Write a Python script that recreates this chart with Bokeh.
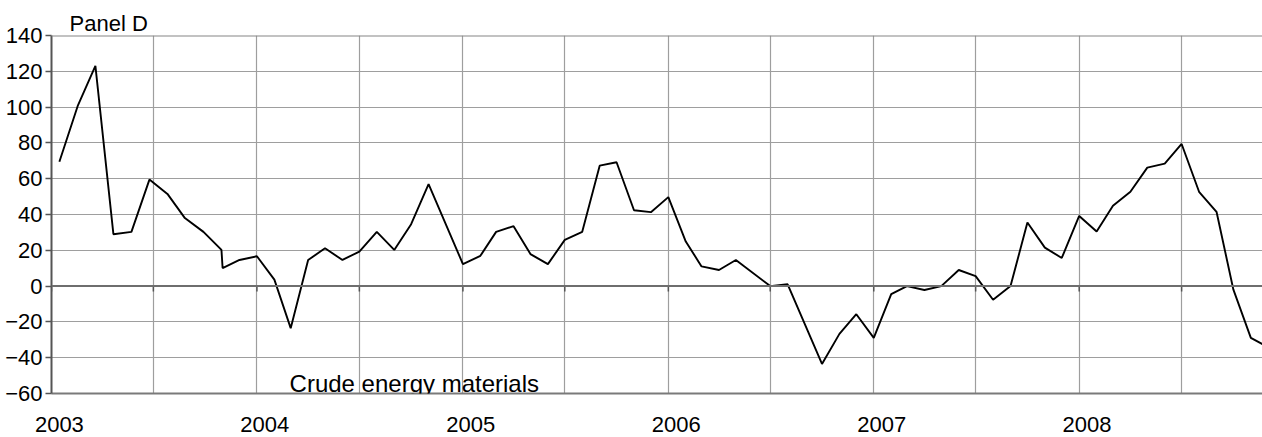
import numpy as np
from bokeh.plotting import figure
from bokeh.models import Range1d, FixedTicker, Span, Label
from bokeh.embed import file_html
from bokeh.resources import INLINE

# ---- data ----
dates = [
    "2003-01-15", "2003-02-17", "2003-03-20", "2003-04-21", "2003-05-23", "2003-06-24",
    "2003-07-26", "2003-08-26", "2003-09-28", "2003-10-30", "2003-11-01", "2003-12-01",
    "2004-01-01", "2004-02-01", "2004-03-01", "2004-04-01", "2004-05-01", "2004-06-01",
    "2004-07-01", "2004-08-01", "2004-09-01", "2004-10-01", "2004-11-01",
    "2005-01-01", "2005-02-01", "2005-03-01", "2005-04-01", "2005-05-01", "2005-06-01",
    "2005-07-01", "2005-08-01", "2005-09-01", "2005-10-01", "2005-11-01", "2005-12-01",
    "2006-01-01", "2006-02-01", "2006-03-01", "2006-04-01", "2006-05-01",
    "2006-07-01", "2006-08-01", "2006-10-01", "2006-11-01", "2006-12-01",
    "2007-01-01", "2007-02-01", "2007-03-01", "2007-04-01", "2007-05-01", "2007-06-01",
    "2007-07-01", "2007-08-01", "2007-09-01", "2007-10-01", "2007-11-01", "2007-12-01",
    "2008-01-01", "2008-02-01", "2008-03-01", "2008-04-01", "2008-05-01", "2008-06-01",
    "2008-07-01", "2008-08-01", "2008-09-01", "2008-10-01", "2008-11-01", "2008-12-01",
]
values = [
    69.5, 101.0, 123.0, 29.0, 30.3, 59.5,
    51.5, 38.0, 30.3, 20.2, 10.1, 14.6,
    16.7, 3.6, -23.5, 14.6, 21.1, 14.6,
    19.3, 30.3, 20.2, 34.6, 57.0,
    12.3, 16.9, 30.3, 33.5, 17.9, 12.3,
    25.8, 30.3, 67.3, 69.2, 42.4, 41.3,
    49.7, 24.9, 11.0, 9.0, 14.6,
    0.0, 1.0, -43.5, -26.7, -15.7,
    -28.9, -4.5, 0.0, -2.2, 0.0, 9.0,
    5.6, -7.6, 0.0, 35.5, 21.5, 15.7,
    39.2, 30.5, 44.9, 52.7, 66.2, 68.4,
    79.4, 52.7, 41.5, -2.0, -28.9, -34.0,
]
years = [2003, 2004, 2005, 2006, 2007, 2008]
year_labels = ["2003", "2004", "2005", "2006", "2007", "2008"]
y_ticks = [-60, -40, -20, 0, 20, 40, 60, 80, 100, 120, 140]
panel_title = "Panel D"
series_name = "Crude energy materials"

origin = np.datetime64("2003-01-01")
xs = (np.array(dates, dtype="datetime64[D]") - origin).astype(int).tolist()
year_starts = [int((np.datetime64(f"{y}-01-01") - origin).astype(int)) for y in years]
half_years = [int((np.datetime64(f"{y}-07-01") - origin).astype(int)) for y in years]
grid_days = sorted(year_starts + half_years)
label_days = [d + 14 for d in year_starts]

FONT = "Liberation Sans"

p = figure(
    width=1262, height=437, output_backend="svg", toolbar_location=None,
    x_range=Range1d(0, 2151.7), y_range=Range1d(-60, 140),
    min_border_left=51, min_border_right=0, min_border_top=35, min_border_bottom=44,
    background_fill_color="white", border_fill_color="white",
)
p.outline_line_color = None

# title "Panel D"
p.title.text = panel_title
p.title.align = "left"
p.title.offset = 18
p.title.standoff = 0
p.title.text_font = FONT
p.title.text_font_size = "22px"
p.title.text_font_style = "normal"
p.title.text_color = "black"

# grids
p.xgrid.ticker = FixedTicker(ticks=grid_days)
p.ygrid.ticker = FixedTicker(ticks=y_ticks)
for g in (p.xgrid, p.ygrid):
    g.grid_line_color = "#9e9e9e"
    g.grid_line_width = 1.2

# bottom axis (labels only)
xa = p.xaxis[0]
xa.ticker = FixedTicker(ticks=label_days)
xa.major_label_overrides = {d: lab for d, lab in zip(label_days, year_labels)}
xa.major_tick_line_color = None
xa.major_tick_out = 0
xa.major_tick_in = 0
xa.minor_tick_line_color = None
xa.axis_line_color = "#7a7a7a"
xa.axis_line_width = 2
xa.major_label_standoff = 23
xa.major_label_text_line_height = 0.85
xa.major_label_text_font = FONT
xa.major_label_text_font_size = "22px"
xa.major_label_text_color = "black"

# left axis
ya = p.yaxis[0]
ya.ticker = FixedTicker(ticks=y_ticks)
ya.major_tick_out = 6
ya.major_tick_in = 0
ya.minor_tick_line_color = None
ya.major_tick_line_color = "#555555"
ya.major_tick_line_width = 1.5
ya.axis_line_color = "#555555"
ya.axis_line_width = 2
ya.major_label_standoff = 3
ya.major_label_text_font = FONT
ya.major_label_text_font_size = "22px"
ya.major_label_text_color = "black"

# top border and zero line
p.add_layout(Span(location=p.y_range.end, dimension="width", line_color="#858585", line_width=2))
p.add_layout(Span(location=0, dimension="width", line_color="#6e6e6e", line_width=2))
p.segment(x0=grid_days, y0=[0] * len(grid_days), x1=grid_days, y1=[-3] * len(grid_days),
          line_color="#555555", line_width=1.5)

# series
p.line(xs, values, line_color="black", line_width=1.9)

p.add_layout(Label(x=423, y=-62, text=series_name, text_font=FONT,
                   text_font_size="24px", text_baseline="bottom", text_color="black"))

open("out.html", "w").write(file_html(p, INLINE))
